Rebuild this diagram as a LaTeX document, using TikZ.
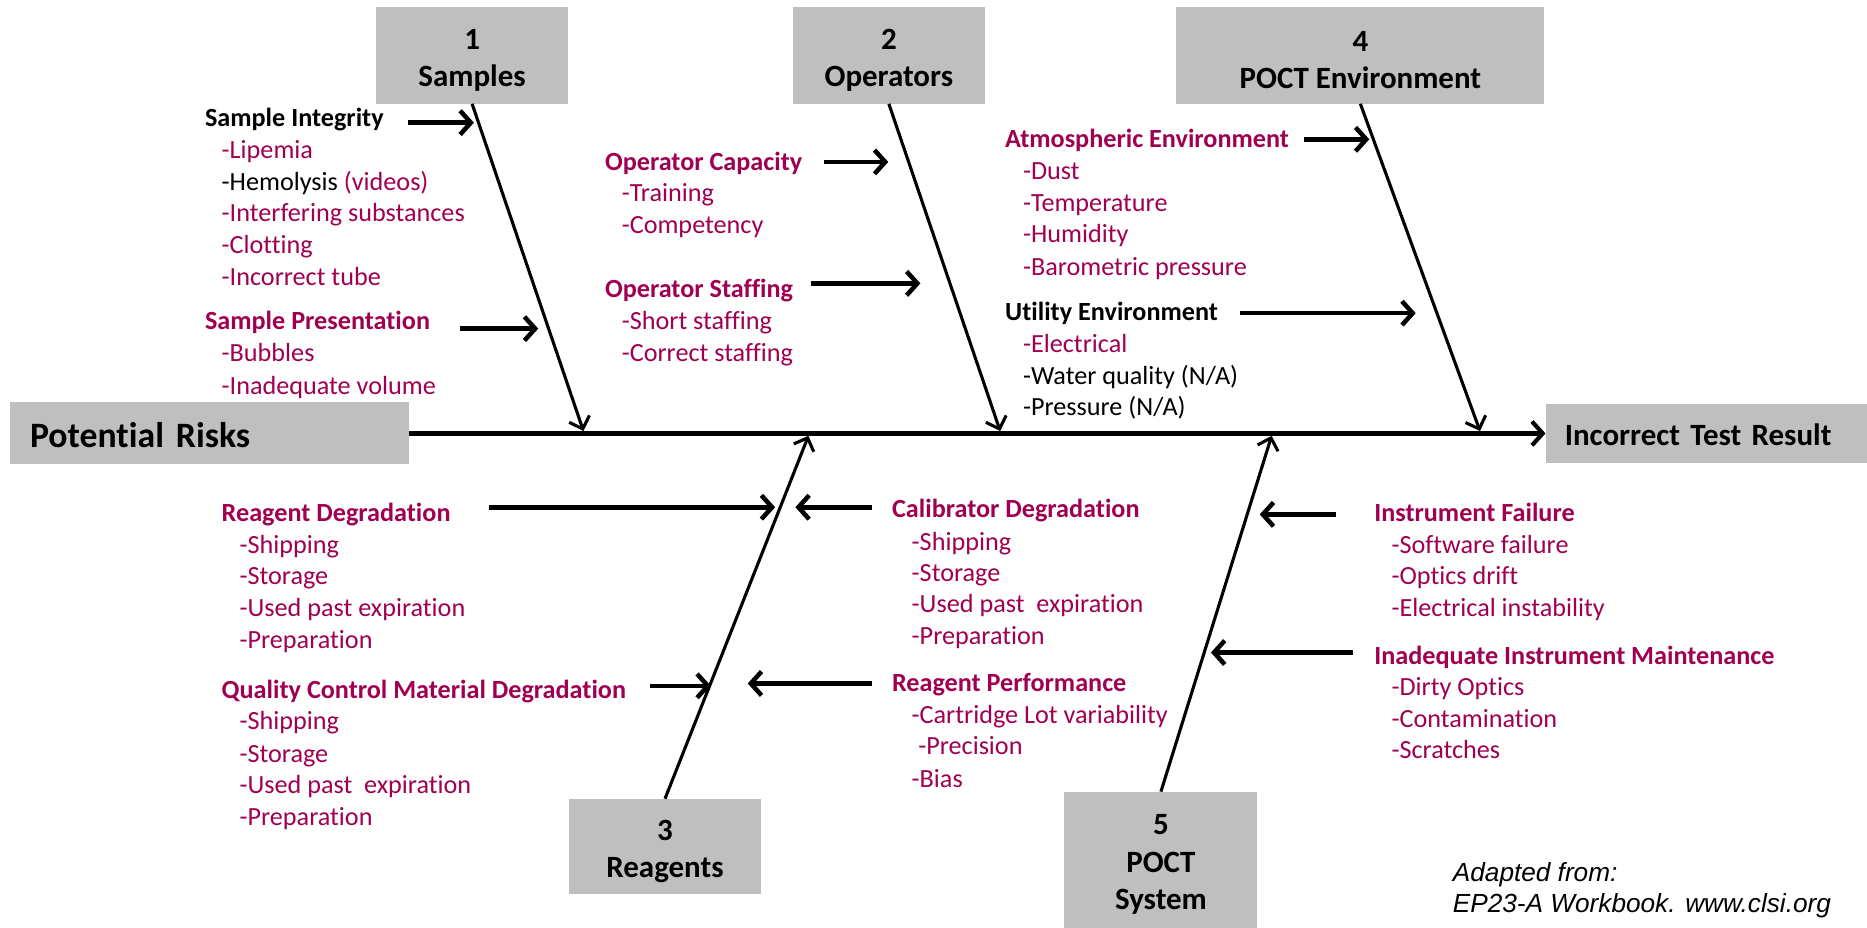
\documentclass[tikz,border=0pt]{standalone}
\usepackage{fontspec}
\setmainfont{Carlito}[Ligatures=NoCommon]
\newfontfamily\attribfont{Liberation Sans}
\usetikzlibrary{arrows.meta}
\definecolor{riskred}{RGB}{160,0,80}
\definecolor{boxgray}{RGB}{191,191,191}
% strut that lowers the first line of a category box
\newcommand{\boxtop}{\rule{0pt}{25pt}}

\begin{document}
\begin{tikzpicture}[x=1pt,y=-1pt,
  catbox/.style={fill=boxgray, draw=none, inner sep=0pt, align=center,
    font=\fontsize{26}{31.5}\selectfont\bfseries},
  endbox/.style={fill=boxgray, draw=none, anchor=west, inner ysep=0pt, align=left},
  head/.style={anchor=base west, inner sep=0pt,
    font=\fontsize{22}{27}\selectfont\bfseries, text=riskred},
  headblk/.style={head, text=black},
  item/.style={anchor=base west, inner sep=0pt,
    font=\fontsize{22}{27}\selectfont, text=riskred},
  itemblk/.style={item, text=black},
  spine/.style={line width=3.5pt, -{Straight Barb[length=9pt,width=20pt]}},
  bone/.style={line width=2.6pt, -{Straight Barb[length=9pt,width=18pt]}},
  feeder/.style={line width=3.8pt, -{Straight Barb[length=9pt,width=20pt]}},
]
\useasboundingbox (0,0) rectangle (1568,779);

% ---- category boxes ----
\node[catbox, minimum width=161pt, minimum height=81pt] (c1) at (396.5,46.5) {\boxtop1\\Samples};
\node[catbox, minimum width=161pt, minimum height=81pt] (c2) at (746.5,46.5) {\boxtop2\\Operators};
\node[catbox, minimum width=309pt, minimum height=81pt] (c4) at (1142.5,46.5) {\boxtop4\\POCT Environment};
\node[catbox, minimum width=161pt, minimum height=80pt] (c3) at (558.5,711) {\boxtop3\\Reagents};
\node[catbox, minimum width=162pt, minimum height=114pt] (c5) at (975,722) {\boxtop5\\POCT\\System};

% ---- head and tail of the fish ----
\node[endbox, minimum width=335pt, minimum height=52pt, inner xsep=17pt, text width=301pt,
  font=\fontsize{30}{36}\selectfont\bfseries] (risk) at (8,364) {\rule{0pt}{24pt}Potential Risks};
\node[endbox, minimum width=270pt, minimum height=49pt, inner xsep=16pt, text width=238pt,
  font=\fontsize{26}{31}\selectfont\bfseries] (result) at (1298,364) {\rule{0pt}{21pt}Incorrect Test Result};

\draw[spine] (risk.east) -- (result.west);

% ---- junctions on the spine ----
\coordinate (j1) at (490,362);
\coordinate (j2) at (840,362);
\coordinate (j4) at (1243,362);
\coordinate (j3) at (679,366);
\coordinate (j5) at (1068,366);

\draw[bone] (c1.south) -- (j1);
\draw[bone] (c2.south) -- (j2);
\draw[bone] (c4.south) -- (j4);
\draw[bone] (c3.north) -- (j3);
\draw[bone] (c5.north) -- (j5);

% ---- feeder arrows onto the bones ----
\foreach \n/\ax/\ay/\bx/\by in {
  f1/343/103/398/103, f2/386/276/452/276,
  f3/692/136/746/136, f4/681/238/773/238,
  f5/1095/117/1150/117, f6/1041/263/1189/263,
  f7/411/426/651/426, f8/732/426/668/426,
  f9/546/576/597/576, f10/732/574/628/574,
  f11/1122/432/1058/432, f12/1136/548/1017/548}{
  \coordinate (\n a) at (\ax,\ay);
  \coordinate (\n b) at (\bx,\by);
  \draw[feeder] (\n a) -- (\n b);
}

% ---- 1 Samples ----
\node[headblk] (si) at (172,106) {Sample Integrity};
\node[item] (si1) at (186,133) {-Lipemia};
\node[itemblk] (si2) at (186,160) {-Hemolysis \textcolor{riskred}{(videos)}};
\node[item] (si3) at (186,186) {-Interfering substances};
\node[item] (si4) at (186,213) {-Clotting};
\node[item] (si5) at (186,240) {-Incorrect tube};
\node[head] (sp) at (172,277) {Sample Presentation};
\node[item] (sp1) at (186,304) {-Bubbles};
\node[item] (sp2) at (186,331) {-Inadequate volume};

% ---- 2 Operators ----
\node[head] (oc) at (508,143) {Operator Capacity};
\node[item] (oc1) at (522,169) {-Training};
\node[item] (oc2) at (522,196.5) {-Competency};
\node[head] (os) at (508,250) {Operator Staffing};
\node[item] (os1) at (522,277) {-Short staffing};
\node[item] (os2) at (522,304) {-Correct staffing};

% ---- 4 POCT Environment ----
\node[head] (ae) at (844,124) {Atmospheric Environment};
\node[item] (ae1) at (859,151) {-Dust};
\node[item] (ae2) at (859,178) {-Temperature};
\node[item] (ae3) at (859,204) {-Humidity};
\node[item] (ae4) at (859,231) {-Barometric pressure};
\node[headblk] (ue) at (844,269) {Utility Environment};
\node[item] (ue1) at (859,296) {-Electrical};
\node[itemblk] (ue2) at (859,322.5) {-Water quality (N/A)};
\node[itemblk] (ue3) at (859,349) {-Pressure (N/A)};

% ---- 3 Reagents ----
\node[head] (rd) at (186,438) {Reagent Degradation};
\node[item] (rd1) at (201,465) {-Shipping};
\node[item] (rd2) at (201,491) {-Storage};
\node[item] (rd3) at (201,518) {-Used past expiration};
\node[item] (rd4) at (201,544.5) {-Preparation};
\node[head] (qc) at (186,586.5) {Quality Control Material Degradation};
\node[item] (qc1) at (201,613) {-Shipping};
\node[item] (qc2) at (201,640) {-Storage};
\node[item] (qc3) at (201,666) {-Used past\ \ expiration};
\node[item] (qc4) at (201,693) {-Preparation};

\node[head] (cd) at (749,435) {Calibrator Degradation};
\node[item] (cd1) at (765.5,462) {-Shipping};
\node[item] (cd2) at (765.5,488.5) {-Storage};
\node[item] (cd3) at (765.5,514) {-Used past\ \ expiration};
\node[item] (cd4) at (765.5,541) {-Preparation};
\node[head] (rp) at (749,581) {Reagent Performance};
\node[item] (rp1) at (765.5,607.5) {-Cartridge Lot variability};
\node[item] (rp2) at (771,634) {-Precision};
\node[item] (rp3) at (765.5,661) {-Bias};

% ---- 5 POCT System ----
\node[head] (fail) at (1154,438) {Instrument Failure};
\node[item] (fail1) at (1168.5,465) {-Software failure};
\node[item] (fail2) at (1168.5,491) {-Optics drift};
\node[item] (fail3) at (1168.5,518) {-Electrical instability};
\node[head] (maint) at (1154,558) {Inadequate Instrument Maintenance};
\node[item] (maint1) at (1168.5,584) {-Dirty Optics};
\node[item] (maint2) at (1168.5,611) {-Contamination};
\node[item] (maint3) at (1168.5,637) {-Scratches};

% ---- source note ----
\node[anchor=base west, inner sep=0pt, font=\attribfont\itshape\fontsize{22}{26}\selectfont] (src1)
  at (1220,740) {Adapted from:};
\node[anchor=base west, inner sep=0pt, font=\attribfont\itshape\fontsize{22}{26}\selectfont] (src2)
  at (1220,766) {EP23-A Workbook. www.clsi.org};

\end{tikzpicture}
\end{document}
